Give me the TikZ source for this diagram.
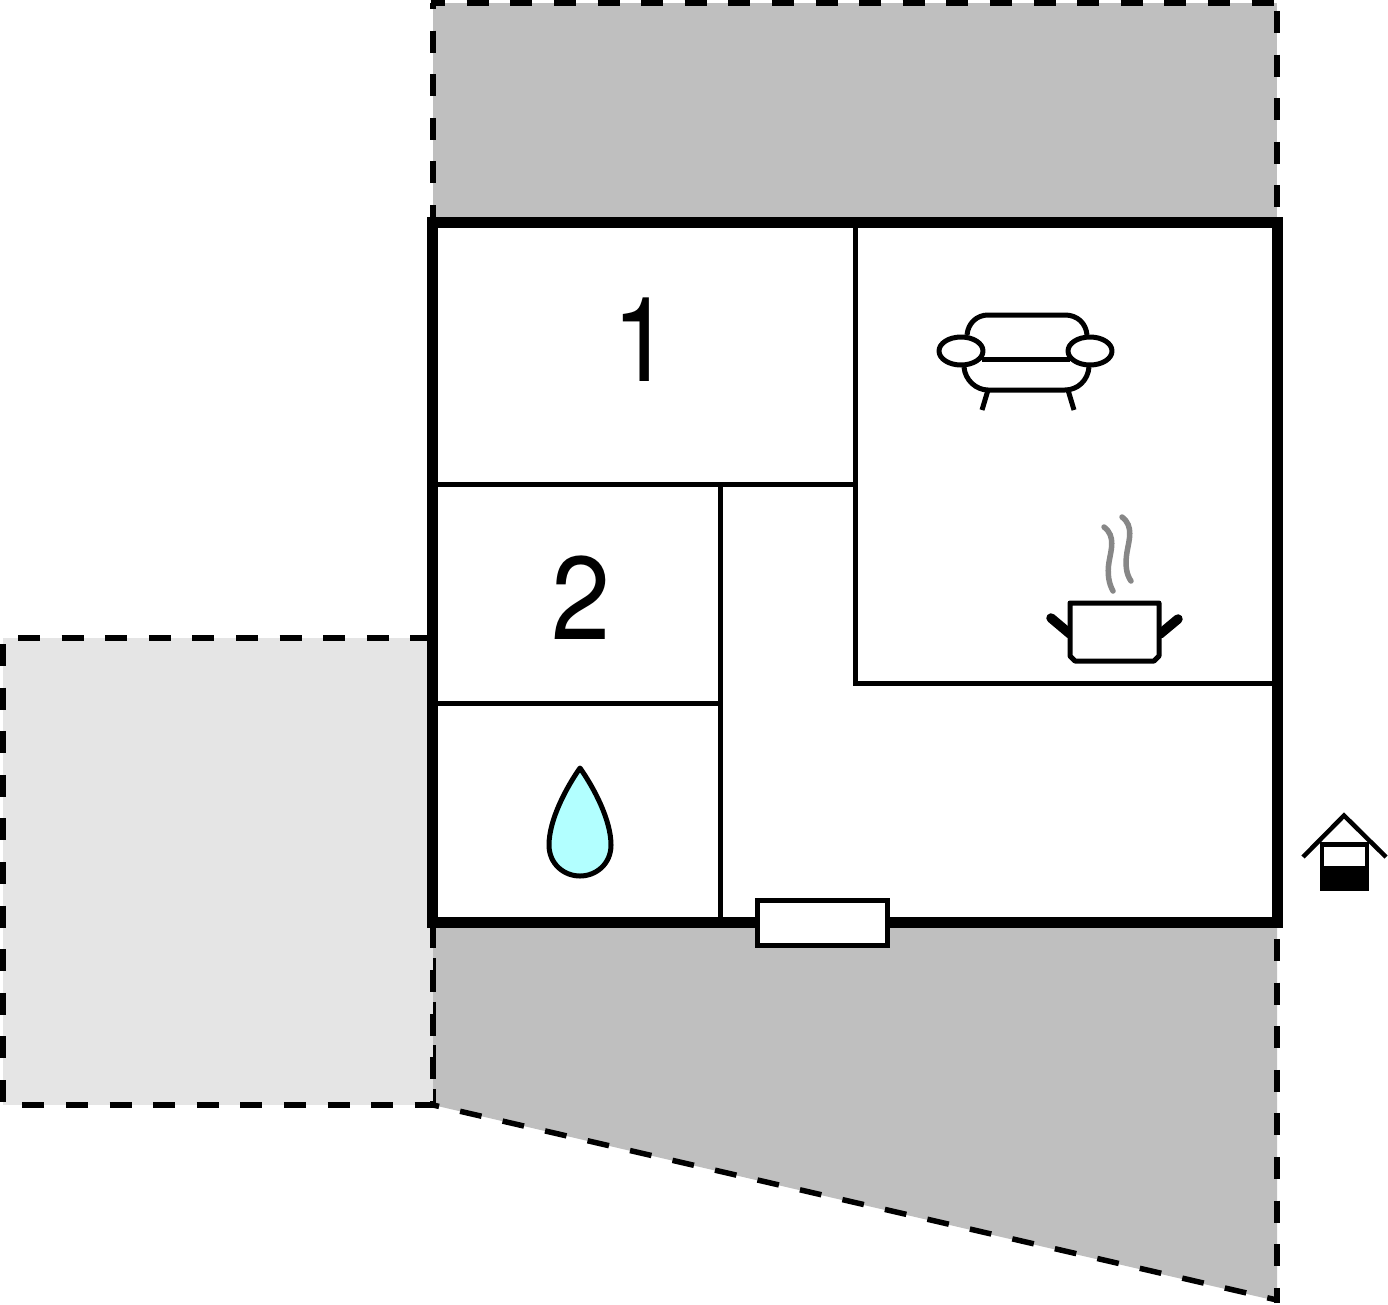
\documentclass[tikz,border=0pt]{standalone}
\usepackage{fontspec}
\setmainfont{TeX Gyre Heros}
\definecolor{dropblue}{RGB}{178,255,255}
\tikzset{
  dashedge/.style={line width=5.5pt,black,dash pattern=on 22pt off 21.6pt},
  thinedge/.style={line width=2.8pt,black,dash pattern=on 22pt off 21.6pt},
  wall/.style={line width=11pt,black,line join=miter},
  inner wall/.style={line width=5pt,black},
  icon/.style={line width=5pt,black,line join=round},
  steam/.style={line width=5.5pt,color=black!47,line cap=round},
  digit/.style={font=\fontsize{118}{118}\selectfont,inner sep=0pt,xscale=0.9,transform shape}
}
\begin{document}
\begin{tikzpicture}[x=1pt,y=-1pt]
\useasboundingbox (0,0) rectangle (1388,1304);
% grounds
\fill[black!25] (433,3) rectangle (1277,222);
\fill[black!25] (433,921) -- (1277,921) -- (1277,1301) -- (433,1105) -- cycle;
\fill[black!10] (3,638) rectangle (433,1105);
% dashed boundaries
\draw[dashedge,dash phase=16] (433,3) -- (433,222);
\draw[dashedge,dash phase=7.4] (430.5,3) -- (1279,3);
\draw[dashedge,dash phase=35.6] (1277,3) -- (1277,222);
\draw[dashedge,dash phase=25.6] (1277,921) -- (1277,1303);
\draw[dashedge,dash phase=15.8] (433,1105) -- (1277,1300);
\draw[dashedge,dash phase=38.2] (433,921) -- (433,1105);
\draw[thinedge,dash phase=6.4] (434.2,921) -- (434.2,1105);
\draw[dashedge,dash phase=28.6] (3,638) -- (433,638);
\draw[dashedge,dash phase=37.6] (3,638) -- (3,1105);
\draw[dashedge,dash phase=24.3] (3,1105) -- (433,1105);
% rooms
\fill[white] (433,223) rectangle (1277,921);
\draw[inner wall] (433,484.5) -- (855,484.5);
\draw[inner wall] (855,223) -- (855,683) -- (1277,683);
\draw[inner wall] (720,484) -- (720,921);
\draw[inner wall] (433,703) -- (720,703);
\draw[wall] (432.5,222.5) rectangle (1277,922.5);
% door
\draw[inner wall,fill=white] (757,900) rectangle (887.5,945);
% digits
\node[digit] (one) at (642,340) {1};
\node[digit] (two) at (581,598) {2};
% drop
\draw[icon,fill=dropblue] (580,768) .. controls (566,788) and (549,820) .. (549,845)
  .. controls (549,864) and (564,876) .. (580,876)
  .. controls (596,876) and (611,864) .. (611,845)
  .. controls (611,820) and (594,788) .. (580,768) -- cycle;
% sofa
\draw[icon] (967,335) .. controls (968,323) and (977,315) .. (988,315) -- (1065,315)
  .. controls (1077,315) and (1086,323) .. (1087,335);
\draw[icon] (964,367) .. controls (965,380) and (976,390) .. (988,390) -- (1065,390)
  .. controls (1078,390) and (1088,380) .. (1089,367);
\draw[icon] (982,359) -- (1070,359);
\draw[icon] (988,390) -- (982,410);
\draw[icon] (1068,390) -- (1074,410);
\draw[icon] (961,351) ellipse [x radius=22,y radius=14];
\draw[icon] (1090,351) ellipse [x radius=22,y radius=14];
% pot
\draw[line width=9.5pt,line cap=round] (1051,618) -- (1070,634);
\draw[line width=9.5pt,line cap=round] (1178,619) -- (1160,634);
\draw[icon,fill=white] (1070,603) -- (1159,603) -- (1159,656) -- (1154,661) -- (1075,661) -- (1070,656) -- cycle;
\draw[steam] (1104,527) .. controls (1116,536) and (1111,550) .. (1109,562) .. controls (1107,574) and (1109,584) .. (1113,591);
\draw[steam] (1122,517) .. controls (1134,526) and (1129,540) .. (1127,552) .. controls (1125,564) and (1126,574) .. (1131,581);
% well
\draw[line width=4.5pt,line join=miter] (1303,857) -- (1344,815.5) -- (1386,857);
\fill[black] (1319.5,842) rectangle (1369,890.5);
\fill[white] (1324,847) rectangle (1365,866);
\end{tikzpicture}
\end{document}
